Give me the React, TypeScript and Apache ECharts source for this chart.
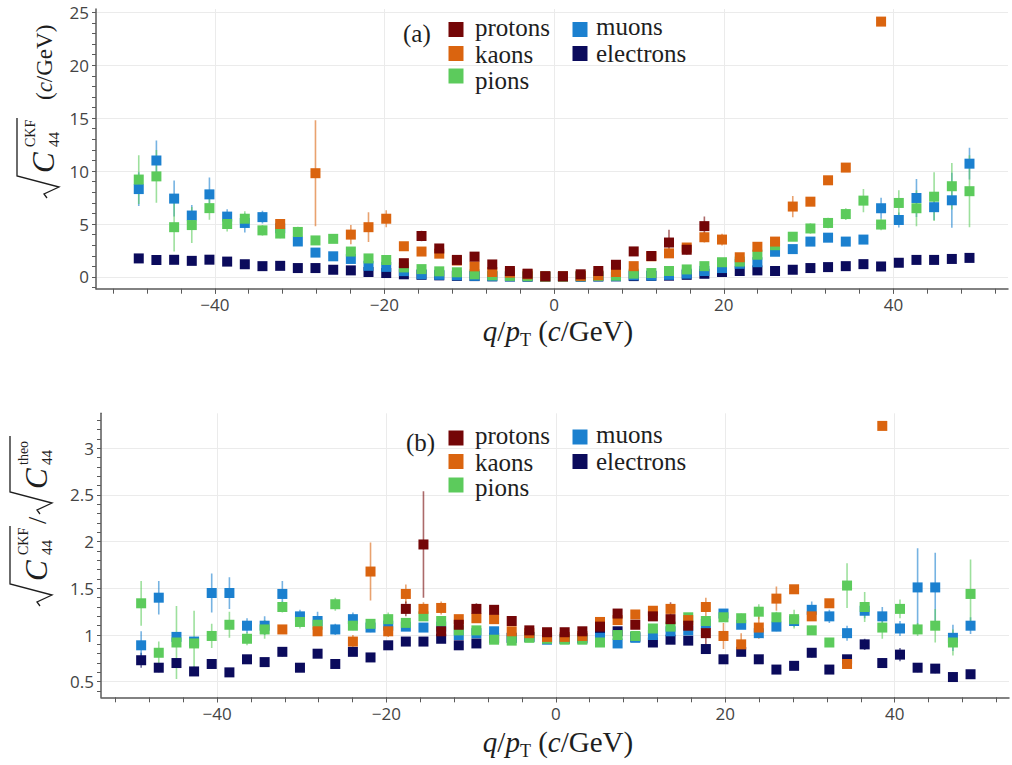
import React, { useEffect, useRef } from "react";
import * as echarts from "echarts";

// bin centres of q/pT (c/GeV)
const qpt = [-48.96, -46.88, -44.79, -42.71, -40.63, -38.54, -36.46, -34.38, -32.29, -30.21, -28.13, -26.04, -23.96, -21.88, -19.79, -17.71, -15.63, -13.54, -11.46, -9.38, -7.29, -5.21, -3.13, -1.04, 1.04, 3.13, 5.21, 7.29, 9.38, 11.46, 13.54, 15.63, 17.71, 19.79, 21.88, 23.96, 26.04, 28.13, 30.21, 32.29, 34.38, 36.46, 38.54, 40.63, 42.71, 44.79, 46.88, 48.96];

const N = null;
// ---------- panel (a): sqrt(C44 CKF) ----------
const protonsA = [N, N, N, N, N, N, N, N, N, N, N, N, N, N, N, 1.3, 3.87, 2.69, 1.61, 1.92, 1.18, 0.56, 0.31, 0.07, 0.07, 0.25, 0.56, 1.15, 2.41, 1.98, 3.25, 2.57, 4.8, N, N, N, N, N, N, N, N, N, N, N, N, N, N, N];
const protonsAErr = [N, N, N, N, N, N, N, N, N, N, N, N, N, N, N, 0.2, 0.5, 0.4, 0.15, 0.2, 0.12, 0.08, 0.05, 0.03, 0.03, 0.05, 0.08, 0.15, 0.2, 0.2, 1.2, 0.45, 0.9, N, N, N, N, N, N, N, N, N, N, N, N, N, N, N];
const kaonsA = [N, N, N, N, N, N, N, N, 5.0, N, 9.8, N, 4.0, 4.7, 5.5, 2.9, 2.4, 2.2, 1.55, 1.0, 0.47, 0.4, 0.25, 0.05, 0.05, 0.1, 0.16, 0.47, 1.02, 1.95, 2.23, 2.78, 3.75, 3.53, 1.86, 2.85, 3.34, 6.65, 7.11, 9.13, 10.33, N, 24.12, N, N, N, N, N];
const kaonsAErr = [N, N, N, N, N, N, N, N, 0.3, N, 5.0, N, 0.9, 1.4, 0.8, 0.4, 0.35, 0.3, 0.2, 0.15, 0.1, 0.08, 0.05, 0.03, 0.03, 0.03, 0.05, 0.1, 0.15, 0.2, 0.3, 0.35, 0.5, 0.55, 0.25, 0.45, 0.4, 1.0, 0.3, 0.3, 0.3, N, 0, N, N, N, N, N];
const pionsA = [9.2, 9.5, 4.7, 4.9, 6.5, 5.0, 5.5, 4.4, 4.1, 4.25, 3.45, 3.6, 2.4, 1.75, 1.6, 0.9, 0.74, 0.53, 0.44, 0.25, 0.15, 0.1, 0.07, 0.04, 0.04, 0.07, 0.1, 0.12, 0.31, 0.37, 0.56, 0.71, 1.02, 1.39, 1.45, 2.1, 3.0, 3.8, 4.58, 5.1, 5.94, 7.21, 4.95, 6.99, 6.49, 7.58, 8.57, 8.1];
const pionsAErr = [2.3, 2.5, 2.3, 1.7, 1.1, 0.7, 0.7, 0.5, 0.45, 0.5, 0.3, 0.25, 0.3, 0.2, 0.2, 0.15, 0.1, 0.08, 0.06, 0.05, 0.04, 0.03, 0.02, 0.02, 0.02, 0.02, 0.03, 0.04, 0.05, 0.06, 0.08, 0.1, 0.12, 0.15, 0.2, 0.25, 0.3, 0.3, 0.5, 0.5, 0.55, 1.1, 0.55, 1.2, 1.7, 2.3, 2.2, 3.4];
const muonsA = [8.3, 11.0, 7.4, 5.8, 7.8, 5.7, 5.1, 5.65, 4.6, 3.35, 2.3, 1.95, 1.7, 1.05, 0.95, 0.55, 0.25, 0.2, 0.15, 0.1, 0.07, 0.05, 0.04, 0.02, 0.02, 0.04, 0.05, 0.07, 0.15, 0.12, 0.2, 0.31, 0.56, 0.84, 1.24, 1.39, 2.38, 2.63, 3.34, 3.71, 3.34, 3.53, 6.49, 5.38, 7.46, 6.59, 7.24, 10.7];
const muonsAErr = [1.6, 1.9, 1.7, 1.0, 1.6, 0.7, 0.9, 0.6, 0.3, 0.25, 0.2, 0.15, 0.15, 0.1, 0.1, 0.08, 0.05, 0.04, 0.03, 0.02, 0.02, 0.02, 0.01, 0.01, 0.01, 0.01, 0.02, 0.02, 0.03, 0.03, 0.04, 0.05, 0.08, 0.1, 0.12, 0.15, 0.2, 0.25, 0.3, 0.3, 0.3, 0.3, 1.0, 0.7, 1.8, 1.2, 2.6, 1.5];
const electronsA = [1.75, 1.6, 1.62, 1.52, 1.63, 1.45, 1.2, 1.02, 1.05, 0.84, 0.84, 0.68, 0.62, 0.47, 0.37, 0.25, 0.2, 0.15, 0.1, 0.08, 0.06, 0.05, 0.03, 0.02, 0.02, 0.03, 0.05, 0.06, 0.08, 0.1, 0.12, 0.2, 0.3, 0.47, 0.56, 0.62, 0.56, 0.68, 0.84, 0.93, 1.02, 1.21, 0.99, 1.34, 1.61, 1.61, 1.7, 1.8];
const electronsAErr = [0.1, 0.08, 0.08, 0.08, 0.08, 0.07, 0.06, 0.06, 0.06, 0.05, 0.05, 0.04, 0.04, 0.03, 0.03, 0.02, 0.02, 0.01, 0.01, 0.01, 0.01, 0.01, 0.01, 0.01, 0.01, 0.01, 0.01, 0.01, 0.01, 0.01, 0.01, 0.02, 0.02, 0.03, 0.03, 0.04, 0.04, 0.04, 0.05, 0.05, 0.06, 0.06, 0.06, 0.07, 0.08, 0.08, 0.09, 0.1];

// ---------- panel (b): sqrt(C44 CKF) / sqrt(C44 theo) ----------
const protonsB = [N, N, N, N, N, N, N, N, N, N, N, N, N, N, N, 1.28, 1.97, 1.04, 1.11, 1.28, 1.27, 1.15, 1.05, 1.03, 1.03, 1.04, 1.09, 1.23, 1.11, 1.2, 1.17, 1.1, 1.02, N, N, N, N, N, N, N, N, N, N, N, N, N, N, N];
const protonsBErr = [N, N, N, N, N, N, N, N, N, N, N, N, N, N, N, 0.08, 0.57, 0.1, 0.05, 0.06, 0.04, 0.03, 0.02, 0.02, 0.02, 0.02, 0.03, 0.05, 0.04, 0.05, 0.18, 0.07, 0.12, N, N, N, N, N, N, N, N, N, N, N, N, N, N, N];
const kaonsB = [N, N, N, N, N, N, N, N, 1.06, N, 1.04, N, 0.93, 1.68, 1.04, 1.44, 1.28, 1.29, 1.17, 1.18, 1.17, 1.04, 1.02, 0.98, 0.98, 0.99, 1.14, 1.16, 1.22, 1.26, 1.28, 1.16, 1.3, 0.99, 0.9, 1.08, 1.39, 1.49, 1.2, 1.34, 0.69, N, 3.24, N, N, N, N, N];
const kaonsBErr = [N, N, N, N, N, N, N, N, 0.03, N, 0.03, N, 0.07, 0.31, 0.06, 0.1, 0.07, 0.07, 0.04, 0.04, 0.03, 0.03, 0.02, 0.02, 0.02, 0.02, 0.03, 0.04, 0.04, 0.05, 0.05, 0.05, 0.1, 0.14, 0.12, 0.12, 0.13, 0.04, 0.05, 0.04, 0.04, N, 0, N, N, N, N, N];
const pionsB = [1.34, 0.81, 0.92, 0.91, 0.99, 1.11, 0.96, 1.06, 1.3, 1.14, 1.11, 1.33, 1.1, 1.12, 1.17, 1.13, 1.2, 1.15, 1.05, 1.05, 0.95, 0.94, 0.97, 0.96, 0.95, 0.95, 0.92, 1.0, 0.99, 1.07, 1.09, 1.19, 1.15, 1.19, 1.18, 1.25, 1.19, 1.17, 1.05, 0.92, 1.53, 1.3, 1.08, 1.28, 1.06, 1.1, 0.92, 1.44];
const pionsBErr = [0.24, 0.12, 0.39, 0.35, 0.13, 0.14, 0.07, 0.1, 0.06, 0.07, 0.06, 0.07, 0.05, 0.05, 0.07, 0.05, 0.05, 0.04, 0.03, 0.03, 0.03, 0.02, 0.02, 0.02, 0.02, 0.02, 0.02, 0.03, 0.03, 0.03, 0.03, 0.04, 0.05, 0.05, 0.05, 0.08, 0.06, 0.1, 0.05, 0.03, 0.24, 0.16, 0.12, 0.1, 0.07, 0.18, 0.14, 0.37];
const muonsB = [0.89, 1.4, 0.98, 0.93, 1.45, 1.45, 1.1, 1.1, 1.44, 1.2, 1.15, 1.06, 1.17, 1.08, 1.1, 1.09, 1.08, 1.09, 1.0, 1.02, 1.04, 0.97, 0.98, 0.95, 0.96, 0.96, 0.97, 0.91, 0.97, 1.0, 1.04, 1.05, 1.12, 1.23, 1.11, 1.02, 1.09, 1.15, 1.27, 1.2, 1.02, 1.26, 1.2, 1.07, 1.51, 1.51, 0.97, 1.1];
const muonsBErr = [0.15, 0.18, 0.05, 0.05, 0.21, 0.17, 0.08, 0.1, 0.14, 0.07, 0.1, 0.06, 0.07, 0.05, 0.05, 0.04, 0.04, 0.03, 0.03, 0.02, 0.02, 0.02, 0.02, 0.02, 0.02, 0.02, 0.02, 0.02, 0.02, 0.02, 0.03, 0.03, 0.04, 0.05, 0.04, 0.05, 0.05, 0.06, 0.09, 0.07, 0.08, 0.08, 0.1, 0.08, 0.42, 0.37, 0.14, 0.09];
const electronsB = [0.73, 0.65, 0.7, 0.61, 0.69, 0.6, 0.74, 0.71, 0.82, 0.65, 0.8, 0.69, 0.82, 0.76, 0.89, 0.93, 0.93, 0.96, 0.89, 0.91, 0.97, 0.97, 0.98, 0.97, 0.96, 0.97, 0.99, 1.04, 0.98, 0.92, 0.95, 0.94, 0.85, 0.74, 0.82, 0.74, 0.63, 0.67, 0.81, 0.63, 0.74, 0.9, 0.7, 0.79, 0.65, 0.64, 0.55, 0.58];
const electronsBErr = [0.08, 0.05, 0.05, 0.05, 0.05, 0.04, 0.04, 0.04, 0.05, 0.04, 0.04, 0.04, 0.04, 0.04, 0.03, 0.03, 0.03, 0.03, 0.02, 0.02, 0.02, 0.02, 0.02, 0.02, 0.02, 0.02, 0.02, 0.02, 0.02, 0.02, 0.03, 0.03, 0.04, 0.04, 0.04, 0.04, 0.04, 0.04, 0.05, 0.04, 0.04, 0.06, 0.05, 0.07, 0.05, 0.05, 0.05, 0.04];

// ---------- ticks ----------
const xLabelTicks = [-40, -20, 0, 20, 40];
const xMinorTicks = [-52, -48, -44, -40, -36, -32, -28, -24, -20, -16, -12, -8, -4, 0, 4, 8, 12, 16, 20, 24, 28, 32, 36, 40, 44, 48, 52];
const yLabelTicksA = [0, 5, 10, 15, 20, 25];
const yMinorTicksA = [-1, 0, 1, 2, 3, 4, 5, 6, 7, 8, 9, 10, 11, 12, 13, 14, 15, 16, 17, 18, 19, 20, 21, 22, 23, 24, 25];
const yLabelTicksB = [0.5, 1, 1.5, 2, 2.5, 3];
const yMinorTicksB = [0.4, 0.5, 0.6, 0.7, 0.8, 0.9, 1.0, 1.1, 1.2, 1.3, 1.4, 1.5, 1.6, 1.7, 1.8, 1.9, 2.0, 2.1, 2.2, 2.3, 2.4, 2.5, 2.6, 2.7, 2.8, 2.9, 3.0, 3.1, 3.2, 3.3];

const COLORS: Record<string, string> = {
  protons: "#740607",
  kaons: "#da640f",
  pions: "#5ccb5c",
  muons: "#1b80cf",
  electrons: "#0b0b5c",
};

// drawing order: first drawn is at the bottom
const SPECIES = [
  { name: "electrons", a: electronsA, aErr: electronsAErr, b: electronsB, bErr: electronsBErr },
  { name: "muons", a: muonsA, aErr: muonsAErr, b: muonsB, bErr: muonsBErr },
  { name: "pions", a: pionsA, aErr: pionsAErr, b: pionsB, bErr: pionsBErr },
  { name: "kaons", a: kaonsA, aErr: kaonsAErr, b: kaonsB, bErr: kaonsBErr },
  { name: "protons", a: protonsA, aErr: protonsAErr, b: protonsB, bErr: protonsBErr },
];

const SERIF = '"Liberation Serif", "Times New Roman", serif';
const SANS = '"Open Sans", "DejaVu Sans", sans-serif';
const INK = "#1e1e1e";
const AXIS = "#5a5a5a";
const GRID = "#ebebeb";

const fmtMinus = (v: number) => (v < 0 ? "\u2212" + Math.abs(v) : String(v));

function panelSeries(p: number) {
  const out: any[] = [];
  SPECIES.forEach((s) => {
    const vals = p === 0 ? s.a : s.b;
    const errs = p === 0 ? s.aErr : s.bErr;
    const color = COLORS[s.name];
    const bars: number[][] = [];
    const pts: number[][] = [];
    vals.forEach((v, i) => {
      if (v == null) return;
      pts.push([qpt[i], v]);
      const e = errs[i];
      if (e) bars.push([qpt[i], v - e, v + e]);
    });
    out.push({
      type: "custom",
      name: s.name + "-err",
      xAxisIndex: p,
      yAxisIndex: p,
      silent: true,
      clip: true,
      encode: { x: 0, y: [1, 2] },
      data: bars,
      renderItem: (_params: any, api: any) => {
        const a = api.coord([api.value(0), api.value(1)]);
        const b = api.coord([api.value(0), api.value(2)]);
        return {
          type: "line",
          shape: { x1: a[0], y1: a[1], x2: b[0], y2: b[1] },
          style: { stroke: color, lineWidth: 1.6, opacity: 0.6 },
        };
      },
    });
    out.push({
      type: "scatter",
      name: s.name,
      xAxisIndex: p,
      yAxisIndex: p,
      silent: true,
      symbol: "rect",
      symbolSize: 10,
      itemStyle: { color, opacity: 1 },
      data: pts,
    });
  });
  return out;
}

const labelStyle = { fontSize: 17, fontFamily: SANS, color: "#444", margin: 7, lineHeight: 14 };

// primary axis: line, labels, major ticks and grid lines
function xAxisMain(gridIndex: number, min: number, max: number) {
  return {
    type: "value",
    gridIndex,
    min,
    max,
    axisLine: { show: true, onZero: false, lineStyle: { color: AXIS, width: 1.5 } },
    axisTick: { show: true, customValues: xLabelTicks, length: 5, lineStyle: { color: AXIS, width: 1 } },
    axisLabel: { ...labelStyle, margin: 9, customValues: xLabelTicks, formatter: fmtMinus },
    splitLine: { show: true, lineStyle: { color: GRID, width: 1 } },
  };
}
// overlay axis: minor ticks only
function xAxisMinor(gridIndex: number, min: number, max: number) {
  return {
    type: "value",
    gridIndex,
    min,
    max,
    position: "bottom",
    axisLine: { show: false, onZero: false },
    axisTick: { show: true, customValues: xMinorTicks, length: 5, lineStyle: { color: AXIS, width: 1 } },
    axisLabel: { show: false },
    splitLine: { show: false },
  };
}
function yAxisMain(gridIndex: number, min: number, max: number, labels: number[]) {
  return {
    type: "value",
    gridIndex,
    min,
    max,
    axisLine: { show: true, onZero: false, lineStyle: { color: AXIS, width: 1.5 } },
    axisTick: { show: true, customValues: labels, length: 4, lineStyle: { color: AXIS, width: 1 } },
    axisLabel: { ...labelStyle, customValues: labels, formatter: (v: number) => String(v) },
    splitLine: { show: true, lineStyle: { color: GRID, width: 1 } },
  };
}
function yAxisMinor(gridIndex: number, min: number, max: number, minor: number[]) {
  return {
    type: "value",
    gridIndex,
    min,
    max,
    position: "left",
    axisLine: { show: false, onZero: false },
    axisTick: { show: true, customValues: minor, length: 4, lineStyle: { color: AXIS, width: 1 } },
    axisLabel: { show: false },
    splitLine: { show: false },
  };
}

function radical(x0: number, x1: number) {
  return {
    type: "polyline",
    shape: { points: [[x0, 3], [x0 + 4, 0], [x0 + 11, 15], [x0 + 22, -27], [x1, -27]] },
    style: { stroke: INK, lineWidth: 1.3, fill: "none" },
  };
}

function txt(text: string, x: number, y: number, size: number, italic = false, align = "left") {
  return {
    type: "text",
    style: {
      text,
      x,
      y,
      fontSize: size,
      fontFamily: SERIF,
      fontStyle: italic ? "italic" : "normal",
      fill: INK,
      align,
      textAlign: align,
      verticalAlign: "middle",
      textVerticalAlign: "middle",
    },
  };
}

function richUnits(x: number, size: number) {
  return {
    type: "text",
    style: {
      text: "{n|(}{i|c}{n|/GeV)}",
      x,
      y: 0,
      fill: INK,
      align: "left",
      verticalAlign: "middle",
      rich: {
        n: { fontSize: size, fontFamily: SERIF, fill: INK },
        i: { fontSize: size, fontFamily: SERIF, fontStyle: "italic", fill: INK },
      },
    },
  };
}

function xTitle(cx: number, cy: number) {
  return {
    type: "text",
    style: {
      text: "{i|q}{n|/}{i|p}{s|T}{n| (}{i|c}{n|/GeV)}",
      x: cx,
      y: cy,
      align: "center",
      verticalAlign: "middle",
      fill: INK,
      rich: {
        n: { fontSize: 29, fontFamily: SERIF, fill: INK, lineHeight: 35 },
        i: { fontSize: 29, fontFamily: SERIF, fontStyle: "italic", fill: INK, lineHeight: 35 },
        s: { fontSize: 18, fontFamily: SERIF, fill: INK, verticalAlign: "bottom" },
      },
    },
  };
}

function legend(rows: { name: string; sq: [number, number]; ty: number; tx: number }[], tag: string, tagPos: [number, number]) {
  const els: any[] = [txt(tag, tagPos[0], tagPos[1], 25)];
  rows.forEach((r) => {
    els.push({
      type: "rect",
      shape: { x: r.sq[0] - 7.5, y: r.sq[1] - 7.5, width: 15, height: 15 },
      style: { fill: COLORS[r.name] },
    });
    els.push(txt(r.name, r.tx, r.ty, 25));
  });
  return els;
}

export default function App() {
  const ref = useRef<HTMLDivElement>(null);
  useEffect(() => {
    if (!ref.current) return;
    const chart = echarts.init(ref.current, undefined, { renderer: "svg" });

    const graphic: any[] = [
      // y title (a)
      {
        type: "group",
        x: 44,
        y: 198,
        rotation: Math.PI / 2,
        children: [
          radical(0, 80),
          txt("C", 25, -1, 31, true),
          txt("CKF", 51, -14, 14),
          txt("44", 51, 10, 15),
          richUnits(98, 23),
        ],
      },
      // y title (b)
      {
        type: "group",
        x: 37,
        y: 606,
        rotation: Math.PI / 2,
        children: [
          radical(0, 80),
          txt("C", 25, -1, 31, true),
          txt("CKF", 51, -14, 14),
          txt("44", 51, 10, 15),
          txt("/", 82, 0, 26),
          radical(92, 170),
          txt("C", 117, -1, 31, true),
          txt("theo", 141, -14, 14),
          txt("44", 141, 10, 15),
        ],
      },
      xTitle(558, 331),
      xTitle(558, 742),
      ...legend(
        [
          { name: "protons", sq: [456, 29.5], ty: 27.5, tx: 475 },
          { name: "kaons", sq: [456, 53.5], ty: 54, tx: 475 },
          { name: "pions", sq: [456, 76], ty: 80.5, tx: 475 },
          { name: "muons", sq: [580, 29.5], ty: 26.5, tx: 596 },
          { name: "electrons", sq: [580, 53.5], ty: 53.5, tx: 596 },
        ],
        "(a)",
        [403, 33]
      ),
      ...legend(
        [
          { name: "protons", sq: [456, 438], ty: 435.5, tx: 475 },
          { name: "kaons", sq: [456, 461.5], ty: 462.5, tx: 475 },
          { name: "pions", sq: [456, 485], ty: 487, tx: 475 },
          { name: "muons", sq: [580, 437], ty: 434.5, tx: 596 },
          { name: "electrons", sq: [580, 461.5], ty: 461.5, tx: 596 },
        ],
        "(b)",
        [406, 442]
      ),
    ];

    chart.setOption({
      animation: false,
      backgroundColor: "#ffffff",
      grid: [
        { left: 96, width: 912, top: 9, height: 279.7, containLabel: false },
        { left: 101, width: 908, top: 413.3, height: 284, containLabel: false },
      ],
      xAxis: [
        xAxisMain(0, -54, 53.5),
        xAxisMain(1, -53.7, 53.5),
        xAxisMinor(0, -54, 53.5),
        xAxisMinor(1, -53.7, 53.5),
      ],
      yAxis: [
        yAxisMain(0, -1.11, 25.31, yLabelTicksA),
        yAxisMain(1, 0.333, 3.375, yLabelTicksB),
        yAxisMinor(0, -1.11, 25.31, yMinorTicksA),
        yAxisMinor(1, 0.333, 3.375, yMinorTicksB),
      ],
      series: [...panelSeries(0), ...panelSeries(1)],
      graphic: { elements: graphic.map((g) => ({ ...g, z: 100 })) },
    });
    return () => chart.dispose();
  }, []);
  return (
    <div
      ref={ref}
      style={{ position: "absolute", left: 0, top: 0, width: 1012, height: 765, background: "#fff" }}
    />
  );
}
